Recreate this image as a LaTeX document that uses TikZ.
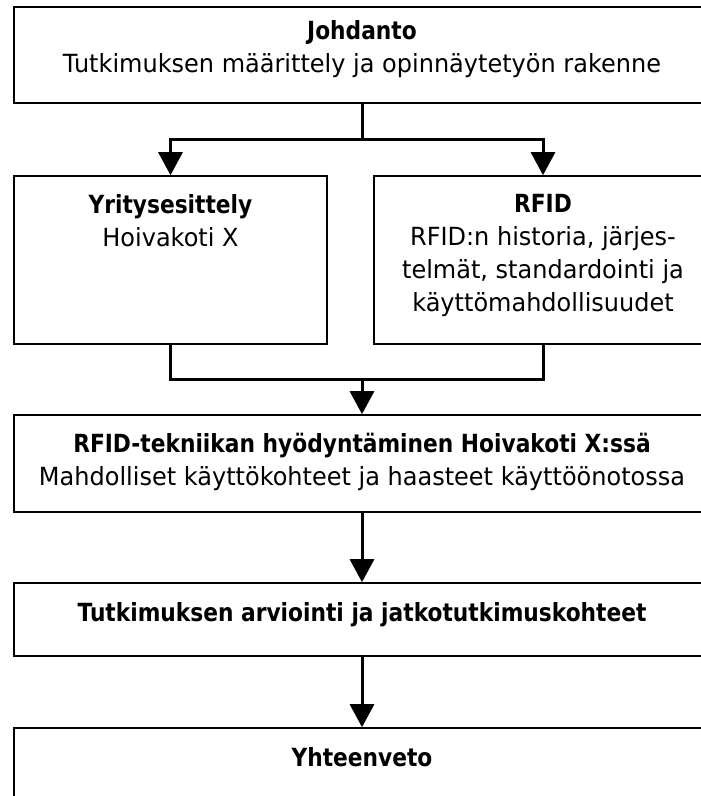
\documentclass[tikz,border=0pt]{standalone}
\usepackage{fontspec}
\setmainfont{DejaVu Sans}[UprightFeatures={FakeStretch=0.96}, BoldFeatures={FakeStretch=0.87}]
\usetikzlibrary{arrows.meta,positioning}
\tikzset{
  box/.style={draw=black, line width=1.6pt, fill=white, inner sep=0pt},
  txt/.style={align=center, inner sep=0pt, anchor=north, font=\fontsize{25}{33}\selectfont},
  wire/.style={line width=3pt},
  conn/.style={line width=3pt, -{Triangle[width=24pt,length=23pt]}},
}
\begin{document}
\begin{tikzpicture}[x=1pt,y=-1pt]
\useasboundingbox (0,0) rectangle (701,796);
\clip (0,0) rectangle (701,796);
% boxes
\node[box, minimum width=696pt, minimum height=96pt] (intro) at (362,55) {};
\node[box, minimum width=313pt, minimum height=168pt] (yritys) at (170.5,260) {};
\node[box, minimum width=338pt, minimum height=168pt] (rfid) at (543,260) {};
\node[box, minimum width=696pt, minimum height=97pt] (hyoty) at (362,463.5) {};
\node[box, minimum width=696pt, minimum height=73pt] (arvio) at (362,619.5) {};
\node[box, minimum width=696pt, minimum height=110pt] (yht) at (362,783) {};
% texts
\node[txt] (introT) at (362,20) {\textbf{Johdanto}\\Tutkimuksen määrittely ja opinnäytetyön rakenne};
\node[txt] (yritysT) at (170.5,194) {\textbf{Yritysesittely}\\Hoivakoti X};
\node[txt] (rfidT) at (543,194) {\textbf{RFID}\\RFID:n historia, järjes-\\telmät, standardointi ja\\käyttömahdollisuudet};
\node[txt] (hyotyT) at (362,433) {\textbf{RFID-tekniikan hyödyntäminen Hoivakoti X:ssä}\\Mahdolliset käyttökohteet ja haasteet käyttöönotossa};
\node[txt] (arvioT) at (362,602) {\textbf{Tutkimuksen arviointi ja jatkotutkimuskohteet}};
\node[txt] (yhtT) at (362,747) {\textbf{Yhteenveto}};
% connectors
\coordinate (split) at (362,139);
\coordinate (merge) at (362,379);
\draw[wire] (intro.south) -- (split);
\draw[conn] (split) -| (yritys.north);
\draw[conn] (split) -| (rfid.north);
\draw[wire] (yritys.south) |- (merge);
\draw[wire] (rfid.south) |- (merge);
\draw[conn] ([yshift=-1.5pt]merge) -- (hyoty.north);
\draw[conn] (hyoty.south) -- (arvio.north);
\draw[conn] (arvio.south) -- (yht.north);
\end{tikzpicture}
\end{document}
